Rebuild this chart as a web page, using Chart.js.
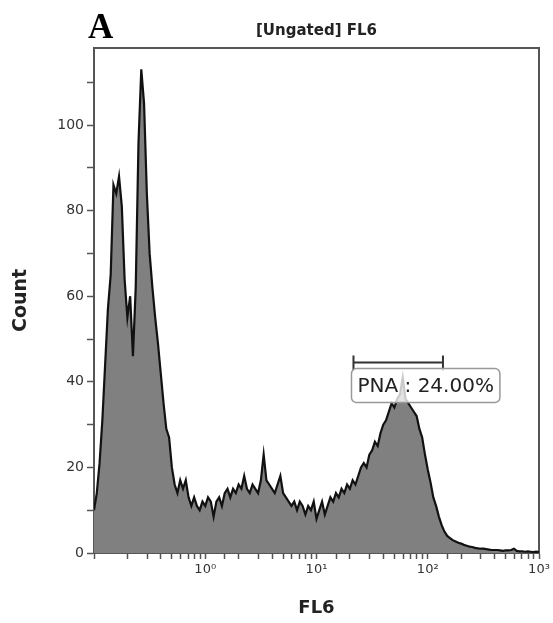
<!DOCTYPE html>
<html><head><meta charset="utf-8">
<script src="https://cdn.jsdelivr.net/npm/chart.js@4.4.1/dist/chart.umd.min.js"></script>
<style>html,body{margin:0;padding:0;background:#fff}#wrap{width:553px;height:623px;position:relative}</style>
</head><body><div id="wrap"><canvas id="c" width="553" height="623"></canvas></div>
<script>
// Histogram channels: log-spaced from 10^-1 to 10^3
const channelStartExp = -1;
const channelStepExp = 0.025;
// Counts, one per channel
const counts = [
 10, 14, 21, 31, 44, 57, 65, 86, 84, 88,
 81, 64, 55, 60, 46, 62, 96, 113, 105, 84,
 70, 62, 55, 49, 42, 35, 29, 27, 20, 16,
 14, 17, 15, 17, 13, 11, 13, 11, 10, 12,
 11, 13, 12, 8.5, 12, 13, 11, 14, 15, 13,
 15, 14, 16, 15, 18, 15, 14, 16, 15, 14,
 17, 23, 17, 16, 15, 14, 16, 18, 14, 13,
 12, 11, 12, 10, 12, 11, 9, 11, 10, 12,
 8, 10, 12, 9, 11, 13, 12, 14, 13, 15,
 14, 16, 15, 17, 16, 18, 20, 21, 20, 23,
 24, 26, 25, 28, 30, 31, 33, 35, 34, 36,
 37, 41, 36, 35, 34, 33, 32, 29, 27, 23,
 19.5, 16.5, 13, 11, 8.5, 6.5, 5, 4, 3.5, 3,
 2.7, 2.4, 2.2, 1.9, 1.7, 1.5, 1.4, 1.2, 1.1, 1,
 1, 0.9, 0.8, 0.7, 0.7, 0.7, 0.6, 0.5, 0.6, 0.6,
 0.7, 1, 0.5, 0.4, 0.4, 0.3, 0.4, 0.3, 0.2, 0.3,
 0.2
];
const xTickValues = [1, 10, 100, 1000];
const xTickLabels = ['10⁰', '10¹', '10²', '10³'];
const yLabelStep = 20;
const gateRange = [21.5, 137];
const gateLevel = 44.5;
const gateLabel = 'PNA : 24.00%';
const chartTitle = '[Ungated] FL6';
const xTitle = 'FL6';
const yTitle = 'Count';
const panelLetter = 'A';

const channels = counts.map((_, i) => Math.pow(10, channelStartExp + i * channelStepExp));
const points = channels.map((x, i) => ({x: x, y: counts[i]}));

Chart.defaults.font.family = '"DejaVu Sans", sans-serif';

const gatePlugin = {
  id: 'gate',
  afterDatasetsDraw(chart) {
    const {ctx, scales} = chart;
    const x0 = scales.x.getPixelForValue(gateRange[0]);
    const x1 = scales.x.getPixelForValue(gateRange[1]);
    const gy = scales.y.getPixelForValue(gateLevel);
    ctx.save();
    ctx.strokeStyle = '#333';
    ctx.lineWidth = 2;
    ctx.beginPath();
    ctx.moveTo(x0, gy); ctx.lineTo(x1, gy);
    ctx.moveTo(x0, gy - 7); ctx.lineTo(x0, gy + 8);
    ctx.moveTo(x1, gy - 7); ctx.lineTo(x1, gy + 8);
    ctx.stroke();
    ctx.font = '20px "DejaVu Sans"';
    const tw = ctx.measureText(gateLabel).width;
    const bx = x0 - 2, by = gy + 6, bw = tw + 12, bh = 34;
    ctx.beginPath();
    ctx.roundRect(bx, by, bw, bh, 5);
    ctx.fillStyle = 'rgba(255,255,255,0.78)';
    ctx.fill();
    ctx.strokeStyle = '#999';
    ctx.lineWidth = 1.5;
    ctx.stroke();
    ctx.fillStyle = '#222';
    ctx.textBaseline = 'middle';
    ctx.textAlign = 'left';
    ctx.fillText(gateLabel, bx + 6, by + bh / 2 + 1);
    ctx.restore();
  }
};

const letterPlugin = {
  id: 'letter',
  afterDraw(chart) {
    const ctx = chart.ctx;
    ctx.save();
    ctx.font = 'bold 35px "Liberation Serif"';
    ctx.fillStyle = '#000';
    ctx.textBaseline = 'alphabetic';
    ctx.textAlign = 'left';
    ctx.fillText(panelLetter, 88, 38);
    ctx.restore();
  }
};

function xLabel(v) {
  for (let k = 0; k < xTickValues.length; k++) {
    if (Math.abs(v - xTickValues[k]) < 1e-6 * xTickValues[k]) return xTickLabels[k];
  }
  return '';
}

new Chart(document.getElementById('c'), {
  type: 'line',
  data: {
    datasets: [{
      data: points,
      borderColor: '#111',
      borderWidth: 2.2,
      backgroundColor: '#808080',
      fill: 'origin',
      pointRadius: 0,
      tension: 0
    }]
  },
  options: {
    responsive: false,
    animation: false,
    parsing: true,
    layout: {padding: 0},
    plugins: {legend: {display: false}, tooltip: {enabled: false}},
    scales: {
      x: {
        type: 'logarithmic', position: 'bottom', min: 0.1, max: 1000,
        afterFit: s => { s.height = 70; },
        border: {display: true, color: '#555', width: 2},
        grid: {display: true, drawOnChartArea: false, drawTicks: true, tickLength: 6, tickColor: '#555', tickWidth: 1.5},
        ticks: {autoSkip: false, maxRotation: 0, padding: 3, color: '#333', font: {size: 13}, callback: v => xLabel(v)},
        title: {display: true, text: xTitle, color: '#222', font: {size: 18, weight: 'bold'}, padding: {top: 0, bottom: 4}}
      },
      xTop: {
        type: 'linear', axis: 'x', position: 'top', min: 0, max: 1,
        afterFit: s => { s.height = 48; },
        border: {display: true, color: '#555', width: 2},
        grid: {display: false},
        ticks: {display: false},
        title: {display: true, text: chartTitle, color: '#222', font: {size: 15, weight: 'bold'}, padding: {top: 22, bottom: 0}}
      },
      y: {
        type: 'linear', position: 'left', min: 0, max: 118,
        afterFit: s => { s.width = 94; },
        border: {display: true, color: '#555', width: 2},
        grid: {display: true, drawOnChartArea: false, drawTicks: true, tickLength: 7, tickColor: '#555', tickWidth: 1.5},
        ticks: {stepSize: 10, includeBounds: false, autoSkip: false, padding: 3, color: '#333', font: {size: 14},
                callback: v => (v % yLabelStep === 0 ? String(v) : '')},
        title: {display: true, text: yTitle, color: '#222', font: {size: 19, weight: 'bold'}, padding: {top: 10, bottom: 0}}
      },
      yRight: {
        type: 'linear', axis: 'y', position: 'right', min: 0, max: 1,
        afterFit: s => { s.width = 14; },
        border: {display: true, color: '#555', width: 2},
        grid: {display: false},
        ticks: {display: false}
      }
    }
  },
  plugins: [gatePlugin, letterPlugin]
});
</script></body></html>
